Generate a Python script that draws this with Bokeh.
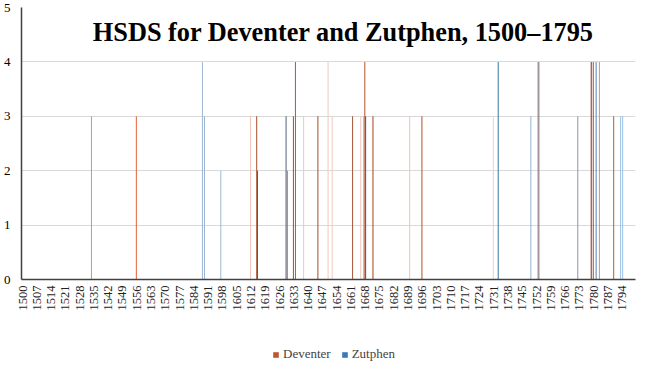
import math
from bokeh.plotting import figure
from bokeh.layouts import column
from bokeh.models import (ColumnDataSource, FixedTicker, Label, Legend, LegendItem,
                          Range1d)
from bokeh.embed import file_html
from bokeh.resources import INLINE

# ---- data ----
deventer_years = [1534, 1556, 1612, 1615, 1630, 1633, 1634, 1638, 1645, 1650, 1652,
                  1662, 1666, 1668, 1672, 1690, 1696, 1731, 1753, 1779, 1780, 1783, 1790]
deventer_values = [3, 3, 3, 3, 2, 3, 4, 3, 3, 4, 3,
                   3, 3, 4, 3, 3, 3, 3, 4, 4, 4, 4, 3]
zutphen_years = [1588, 1589, 1597, 1615, 1629, 1667, 1668, 1733, 1749, 1753, 1772,
                 1781, 1793, 1794]
zutphen_values = [4, 3, 2, 2, 3, 3, 3, 4, 3, 4, 3, 4, 3, 3]

tick_years = list(range(1500, 1795, 7))
y_ticks = [0, 1, 2, 3, 4, 5]
series_names = ["Deventer", "Zutphen"]

# ---- styles (per-point shades, as in the original "vary colours" chart) ----
deventer_colors = ["#D39585", "#E2643C", "#F0C4B8", "#A8502E", "#E0603A", "#A8502E",
                   "#B85A38", "#F2C6B9", "#A8502E", "#EFCBC0", "#EFCBC0", "#A8583A",
                   "#F0C8BC", "#B8552E", "#A8451F", "#F2C3B5", "#B0552F", "#EDD0C8",
                   "#A8502E", "#803020", "#A0503A", "#D0907F", "#B06040"]
zutphen_colors = ["#9EB8D2", "#9AB6D2", "#9FBAD4", "#4D5B7E", "#56617F", "#A8C0DA",
                  "#4B5778", "#3A78A0", "#93B5D6", "#7FA6CC", "#8C98AC", "#5B86B5",
                  "#9CC3E6", "#9CC3E6"]
series_colors = ["#C4532F", "#3A79B8"]

SERIF = "Liberation Serif"

p = figure(width=636, height=340, output_backend="svg", toolbar_location=None,
           x_range=Range1d(1499.5, 1800.5), y_range=Range1d(0, 5),
           min_border_left=19, min_border_right=1, min_border_top=7, min_border_bottom=61)
p.outline_line_color = None
p.background_fill_color = "white"
p.border_fill_color = "white"

dsrc = ColumnDataSource(dict(x=[y - 0.2 for y in deventer_years], top=deventer_values,
                             color=deventer_colors))
zsrc = ColumnDataSource(dict(x=[y + 0.2 for y in zutphen_years], top=zutphen_values,
                             color=zutphen_colors))
p.vbar(x="x", top="top", bottom=0, width=0.5, source=dsrc, fill_color="color",
       line_color=None)
p.vbar(x="x", top="top", bottom=0, width=0.5, source=zsrc, fill_color="color",
       line_color=None)

# axes
p.xgrid.visible = False
p.ygrid.grid_line_color = "#D9D9D9"
p.ygrid.grid_line_width = 1

p.yaxis.ticker = FixedTicker(ticks=y_ticks)
p.yaxis.minor_tick_line_color = None
p.yaxis.major_tick_line_color = None
p.yaxis.major_tick_out = 0
p.yaxis.major_tick_in = 0
p.yaxis.major_label_standoff = 11
p.yaxis.axis_line_color = "#404040"
p.yaxis.axis_line_width = 1.5
p.yaxis.major_label_text_font = SERIF
p.yaxis.major_label_text_font_size = "13px"
p.yaxis.major_label_text_color = "black"

p.xaxis.ticker = FixedTicker(ticks=tick_years)
p.xaxis.minor_tick_line_color = None
p.xaxis.major_tick_line_color = None
p.xaxis.major_tick_out = 0
p.xaxis.major_tick_in = 0
p.xaxis.major_label_standoff = 6
p.xaxis.major_label_orientation = math.pi / 2
p.xaxis.axis_line_color = "#404040"
p.xaxis.axis_line_width = 1.5
p.xaxis.major_label_text_font = SERIF
p.xaxis.major_label_text_font_size = "12.5px"
p.xaxis.major_label_text_color = "#222222"

# title drawn over the plot area
title = Label(x=1657.3, y=4.54, text="HSDS for Deventer and Zutphen, 1500\u20131795",
              text_font=SERIF, text_font_style="bold", text_font_size="26.3px",
              text_align="center", text_baseline="alphabetic", text_color="black")
p.add_layout(title)

# ---- legend strip below the chart ----
lp = figure(width=636, height=23, output_backend="svg", toolbar_location=None,
            x_range=Range1d(0, 1), y_range=Range1d(0, 1),
            min_border_left=0, min_border_right=0, min_border_top=0, min_border_bottom=0)
lp.axis.visible = False
lp.grid.visible = False
lp.outline_line_color = None
lp.background_fill_color = "white"
lp.border_fill_color = "white"
items = []
for name, col in zip(series_names, series_colors):
    # proxy renderer for the legend swatch (zero-height bar, draws nothing)
    r = lp.vbar(x=[0.5], top=[0], bottom=0, width=0.1, fill_color=col, line_color=None)
    items.append(LegendItem(label=name, renderers=[r]))
legend = Legend(items=items, location=(251, 1), orientation="horizontal",
                glyph_width=7, glyph_height=7, label_standoff=4, spacing=10,
                padding=0, margin=0, label_height=14,
                label_text_font=SERIF, label_text_font_size="13px",
                border_line_color=None, background_fill_alpha=0)
lp.add_layout(legend, "center")

layout = column(p, lp, spacing=0)
open("out.html", "w").write(file_html(layout, INLINE))
